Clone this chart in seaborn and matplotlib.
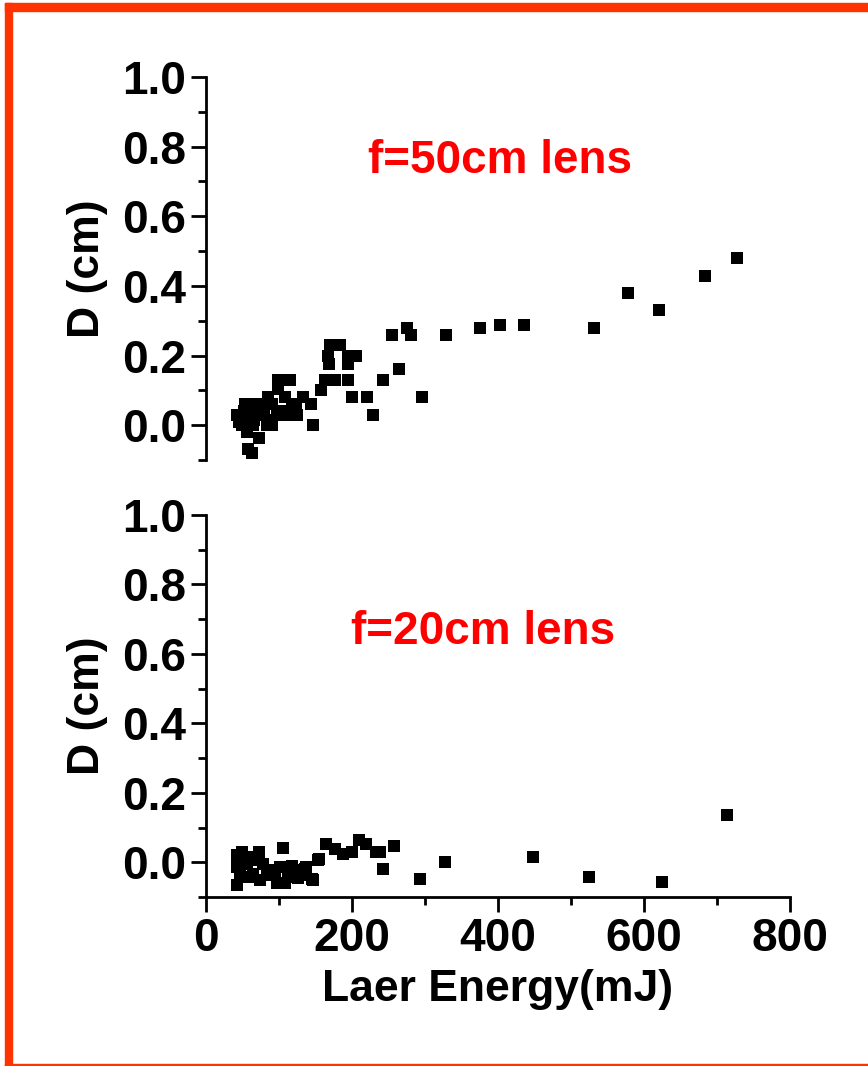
import numpy as np
import pandas as pd
import seaborn as sns
import matplotlib.pyplot as plt
from matplotlib.ticker import MultipleLocator
from matplotlib.patches import Rectangle

# f=50cm lens data (energy mJ, D cm)
energy_50 = [728, 683, 578, 620, 532, 436, 403, 376, 329, 281, 276, 255, 265, 242, 296,
             229, 220, 200, 195, 206, 195, 195, 184, 170, 167, 168, 177, 163, 158, 147,
             144, 133, 124, 123, 115, 99, 99, 108, 85, 90, 110, 97, 90, 69, 53, 42,
             60, 76, 49, 65, 83, 56, 72, 57, 63, 45, 80, 70, 88, 102, 118, 52, 66]
d_50 = [0.479, 0.429, 0.379, 0.330, 0.280, 0.288, 0.288, 0.280, 0.259, 0.259, 0.280, 0.259,
        0.160, 0.129, 0.080, 0.030, 0.080, 0.080, 0.129, 0.199, 0.199, 0.177, 0.230, 0.230,
        0.199, 0.177, 0.129, 0.129, 0.100, 0.000, 0.060, 0.081, 0.029, 0.059, 0.129, 0.129,
        0.103, 0.081, 0.081, 0.060, 0.029, 0.029, 0.000, 0.060, 0.060, 0.029, 0.029, 0.029,
        0.000, 0.000, 0.000, -0.019, -0.038, -0.067, -0.080, 0.010, 0.050, 0.045, 0.015,
        0.040, 0.060, 0.040, 0.015]

# f=20cm lens data
energy_20 = [714, 624, 525, 448, 327, 293, 258, 242, 238, 233, 219, 209, 200, 188, 177,
             164, 155, 146, 137, 105, 42, 42, 49, 72, 42, 56, 65, 78, 83, 97, 101, 113,
             122, 129, 136, 145, 154, 47, 58, 69, 90, 108, 74, 60, 88, 118, 126, 95, 52]
d_20 = [0.135, -0.057, -0.041, 0.015, 0.002, -0.049, 0.046, -0.018, 0.029, 0.030, 0.052,
        0.063, 0.030, 0.025, 0.037, 0.054, 0.008, -0.050, -0.013, 0.040, -0.066, 0.020,
        0.030, 0.030, -0.013, -0.004, -0.033, -0.004, -0.037, -0.061, -0.013, -0.042,
        -0.023, -0.037, -0.018, -0.047, 0.006, -0.033, -0.042, 0.006, -0.023, -0.061,
        -0.052, 0.015, -0.030, -0.010, -0.045, -0.025, 0.010]

sns.set_style("ticks")
plt.rcParams['font.family'] = ['Liberation Sans', 'DejaVu Sans']
plt.rcParams['font.weight'] = 'bold'
plt.rcParams['axes.labelweight'] = 'bold'
for key in ['text.color', 'axes.labelcolor', 'xtick.color', 'ytick.color', 'axes.edgecolor']:
    plt.rcParams[key] = 'black'

FS = 33
fig = plt.figure(figsize=(8.68, 10.66), dpi=100)
fig.patch.set_facecolor('white')

ax1 = fig.add_axes([206 / 868, 1 - 460 / 1066, 584 / 868, 383 / 1066])
ax2 = fig.add_axes([206 / 868, 1 - 897 / 1066, 584 / 868, 382 / 1066])

df50 = pd.DataFrame({'E': energy_50, 'D': d_50})
df20 = pd.DataFrame({'E': energy_20, 'D': d_20})

for ax, df in [(ax1, df50), (ax2, df20)]:
    sns.scatterplot(data=df, x='E', y='D', ax=ax, marker='s', s=78,
                    color='black', linewidth=0)
    ax.set_xlim(0, 800)
    ax.set_ylim(-0.1, 1.0)
    ax.yaxis.set_major_locator(MultipleLocator(0.2))
    ax.yaxis.set_minor_locator(MultipleLocator(0.1))
    ax.xaxis.set_major_locator(MultipleLocator(200))
    ax.xaxis.set_minor_locator(MultipleLocator(100))
    ax.tick_params(which='major', direction='out', length=11, width=2, labelsize=FS)
    ax.tick_params(which='minor', direction='out', length=6, width=2)
    for side in ['top', 'right']:
        ax.spines[side].set_visible(False)
    ax.spines['left'].set_linewidth(2)
    ax.spines['bottom'].set_linewidth(2)
    ax.set_ylabel('D (cm)', fontsize=FS - 1, fontweight='bold', labelpad=10)
    ax.set_facecolor('white')
    for lab in ax.get_yticklabels() + ax.get_xticklabels():
        lab.set_fontweight('bold')

ax1.spines['bottom'].set_visible(False)
ax1.tick_params(axis='x', which='both', bottom=False, labelbottom=False)
ax1.set_xlabel('')
ax2.set_xlabel('Laer Energy(mJ)', fontsize=FS - 1, fontweight='bold', labelpad=6)

ax1.text(403, 0.76, 'f=50cm lens', color='#ff0000', fontsize=FS,
         fontweight='bold', ha='center', va='center')
ax2.text(379, 0.663, 'f=20cm lens', color='#ff0000', fontsize=FS,
         fontweight='bold', ha='center', va='center')

# orange frame
border = '#ff3300'
fig.add_artist(Rectangle((5 / 868, 0), 7 / 868, 1 - 3 / 1066,
                         transform=fig.transFigure, color=border, zorder=10))
fig.add_artist(Rectangle((5 / 868, 1 - 11 / 1066), 1 - 5 / 868, 8 / 1066,
                         transform=fig.transFigure, color=border, zorder=10))
fig.add_artist(Rectangle((5 / 868, 0), 1 - 5 / 868, 2.5 / 1066,
                         transform=fig.transFigure, color=border, zorder=10))

fig.savefig('out.png', dpi=100)
